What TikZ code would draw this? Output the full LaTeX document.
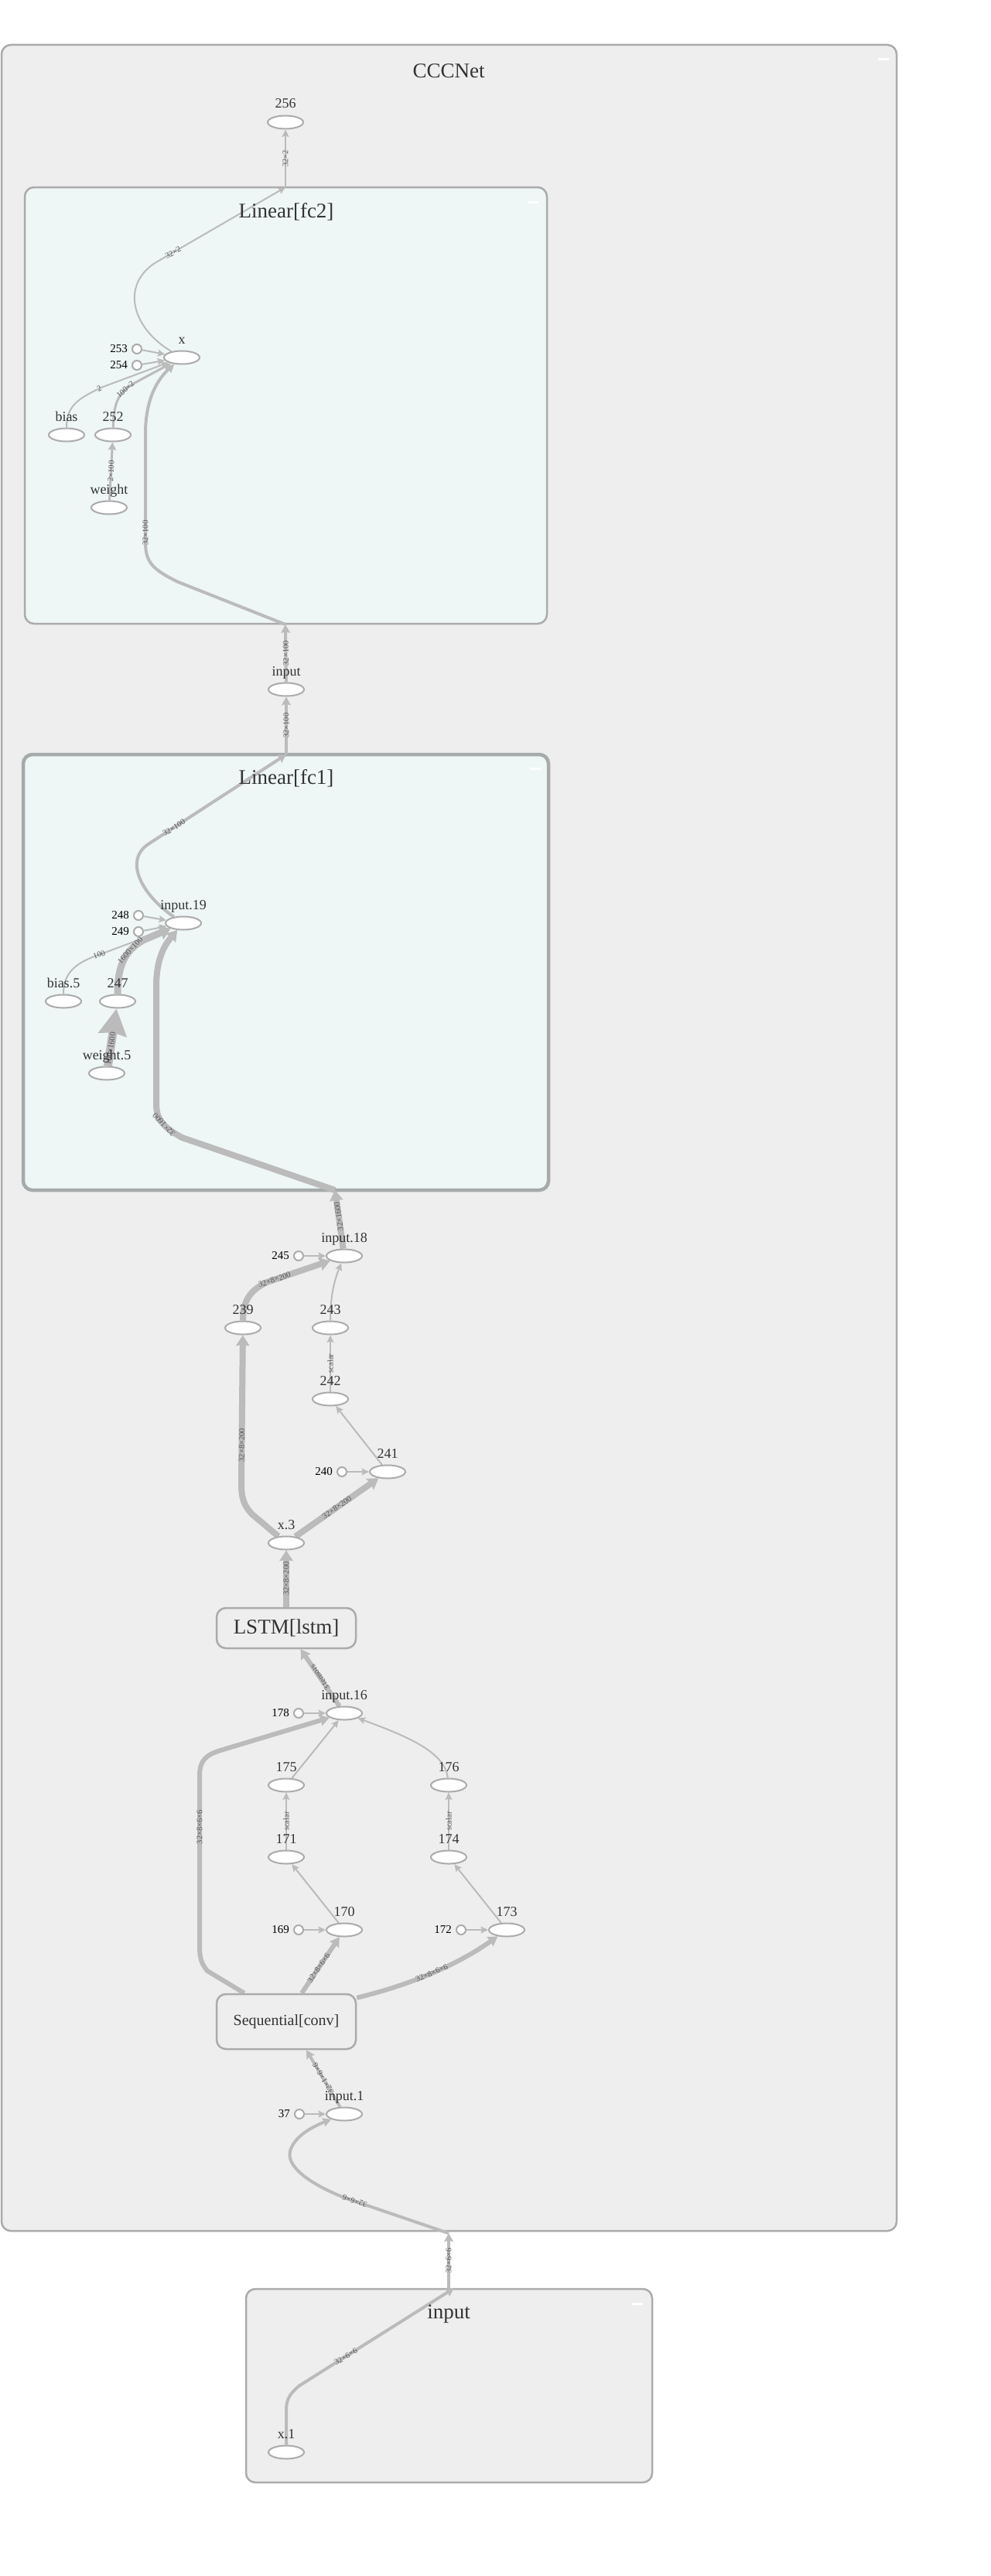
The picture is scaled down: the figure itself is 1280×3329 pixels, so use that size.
\documentclass[tikz,border=0pt]{standalone}
\usepackage{fontspec}
\setmainfont{Liberation Serif}
\usetikzlibrary{arrows.meta,shapes.geometric,calc}
\pgfdeclarelayer{bg}
\pgfdeclarelayer{edgel}
\pgfsetlayers{bg,edgel,main}
\definecolor{ecol}{HTML}{BBBBBB}
\definecolor{bcol}{HTML}{ABABAB}
\definecolor{outfill}{HTML}{EEEEEE}
\definecolor{fcfill}{HTML}{EEF6F6}
\definecolor{fcbord}{HTML}{A5AAAA}
\definecolor{txt}{HTML}{333333}
\definecolor{elab}{HTML}{555555}
\newcommand\mkop[4]{\node[opn] (#1) at (#2,#3) {}; \node[lab] (#1-l) at ([yshift=18pt]#1.center) {#4};}
\newcommand\mkcst[4]{\node[cst] (#1) at (#2,#3) {}; \node[clab] (#1-l) at ([xshift=-5pt]#1.west) {#4};}
\begin{document}
\begin{tikzpicture}[x=1pt,y=-1pt,
 opn/.style={ellipse, draw=bcol, fill=white, line width=2pt, minimum width=46pt, minimum height=17pt, inner sep=0pt},
 cst/.style={circle, draw=bcol, fill=white, line width=2pt, minimum size=12pt, inner sep=0pt},
 lab/.style={text=txt, font=\fontsize{18}{20}\selectfont, inner sep=0pt, anchor=base},
 clab/.style={text=black, font=\fontsize{15}{17}\selectfont, inner sep=0pt, anchor=east},
 ttl/.style={text=txt, font=\fontsize{27}{30}\selectfont, inner sep=0pt},
 ed/.style={draw=ecol, line width=#1, -{Stealth[length=8pt 0.7, width=6pt 1.4, inset=1.5pt]}},
 bigtip/.style={draw=ecol, line width=#1, -{Stealth[length=34pt, width=36pt, inset=3pt]}},
 el/.style={text=elab, font=\fontsize{10.5}{12}\selectfont, inner sep=0.5pt, sloped, allow upside down},
 meta/.style={draw=bcol, line width=2.5pt, rounded corners=12pt, inner sep=0pt},
 collbtn/.style={fill=white, draw=none}
]
\useasboundingbox (0,0) rectangle (1280,3329);
\begin{pgfonlayer}{bg}
\fill[white] (0,0) rectangle (1280,3329);
\node[meta, fill=outfill, minimum width=1157pt, minimum height=2825pt] (cccnet) at (580.5,1470.5) {};
\node[meta, fill=fcfill, minimum width=675pt, minimum height=564pt] (fc2) at (369.5,524) {};
\node[meta, fill=fcfill, draw=fcbord, line width=4.5pt, minimum width=679pt, minimum height=563pt] (fc1) at (369.5,1256.5) {};
\node[meta, fill=outfill, minimum width=525pt, minimum height=250pt] (inbox) at (580.5,3083) {};
\fill[collbtn] (1135,75.5) rectangle (1149,78.5);
\fill[collbtn] (682,259.5) rectangle (696,262.5);
\fill[collbtn] (685,991.5) rectangle (699,994.5);
\fill[collbtn] (817,2975.5) rectangle (831,2978.5);
\end{pgfonlayer}

\node[ttl] (t-ccc) at (580,92) {CCCNet};
\node[ttl] (t-fc2) at (370,274) {Linear[fc2]};
\node[ttl] (t-fc1) at (370,1006) {Linear[fc1]};
\node[ttl] (t-in) at (580,2990) {input};

\node[meta, fill=outfill, minimum width=180pt, minimum height=52pt, text=txt, font=\fontsize{27}{30}\selectfont] (lstm) at (370,2104) {LSTM[lstm]};
\node[meta, fill=outfill, minimum width=180pt, minimum height=71pt, text=txt, font=\fontsize{20}{24}\selectfont] (seq) at (370,2612.5) {Sequential[conv]};

% ports on box borders
\coordinate (fc2top) at (369,242);
\coordinate (fc2bot) at (369,807);
\coordinate (fc1top) at (370,975);
\coordinate (fc1bot) at (433,1538);
\coordinate (outport) at (580,2886);
\coordinate (inport) at (580,2957);
\coordinate (inport2) at (587,2957);

% nodes
\mkop{n256}{369}{158}{256}
\mkop{xn}{235}{462}{x}
\mkcst{c253}{177}{451}{253}
\mkcst{c254}{177}{472}{254}
\mkop{bias}{86}{562}{bias}
\mkop{n252}{146}{562}{252}
\mkop{weight}{141}{656}{weight}
\mkop{inputn}{370}{891}{input}
\mkop{in19}{237}{1193}{input.19}
\mkcst{c248}{179}{1183}{248}
\mkcst{c249}{179}{1204}{249}
\mkop{bias5}{82}{1294}{bias.5}
\mkop{n247}{152}{1294}{247}
\mkop{weight5}{138}{1387}{weight.5}
\mkop{in18}{445}{1623}{input.18}
\mkcst{c245}{386}{1623}{245}
\mkop{n239}{314}{1716}{239}
\mkop{n243}{427}{1716}{243}
\mkop{n242}{427}{1808}{242}
\mkop{n241}{501}{1902}{241}
\mkcst{c240}{442}{1902}{240}
\mkop{xn3}{370}{1994}{x.3}
\mkop{in16}{445}{2214}{input.16}
\mkcst{c178}{386}{2214}{178}
\mkop{n175}{370}{2307}{175}
\mkop{n176}{580}{2307}{176}
\mkop{n171}{370}{2400}{171}
\mkop{n174}{580}{2400}{174}
\mkop{n170}{445}{2494}{170}
\mkcst{c169}{386}{2494}{169}
\mkop{n173}{655}{2494}{173}
\mkcst{c172}{596}{2494}{172}
\mkop{in1}{445}{2732}{input.1}
\mkcst{c37}{387}{2732}{37}
\mkop{x1}{370}{3169}{x.1}

\begin{pgfonlayer}{edgel}
% fc2
\draw[ed=2pt] (fc2top) -- (n256) node[el,midway]{32×2};
\draw[ed=2pt] (xn) .. controls (172,425) and (155,370) .. (200,340) -- (fc2top) node[el,pos=0.14]{32×2};
\draw[ed=4pt] (fc2bot) -- (230,752) .. controls (195,735) and (188,725) .. (188,700) -- (188,560) node[el,pos=0.08]{32×100} .. controls (188,525) and (198,495) .. (xn);
\draw[ed=2pt] (bias) .. controls (86,525) and (100,515) .. (133,500) node[el,pos=0.95]{2} -- (xn);
\draw[ed=3pt] (n252) .. controls (147,520) and (153,508) .. (172,496) node[el,pos=0.8]{100×2} -- (xn);
\draw[ed=3pt] (weight) -- (n252) node[el,midway]{2×100};
\draw[ed=2pt] (c253) -- (xn);
\draw[ed=2pt] (c254) -- (xn);
% between fc1 and fc2
\draw[ed=4pt] (fc1top) -- (inputn) node[el,midway]{32×100};
\draw[ed=4pt] (inputn) -- (fc2bot) node[el,midway]{32×100};
% fc1
\draw[ed=4pt] (in19) .. controls (185,1158) and (158,1112) .. (193,1090) -- (fc1top) node[el,pos=0.18]{32×100};
\draw[ed=8pt] (fc1bot) -- (235,1470) .. controls (208,1455) and (202,1445) .. (202,1425) node[el,pos=0.4]{32×1600} -- (202,1275) .. controls (202,1240) and (212,1222) .. (in19);
\draw[ed=2pt] (bias5) .. controls (82,1255) and (100,1243) .. (133,1232) node[el,pos=0.95]{100} -- (in19);
\draw[ed=9pt] (n247) .. controls (152,1245) and (163,1228) .. (185,1215) node[el,pos=0.7]{1600×100} -- (in19);
\draw[bigtip=11pt] (weight5) -- (n247) node[el,pos=0.3]{100×1600};
\draw[ed=2pt] (c248) -- (in19);
\draw[ed=2pt] (c249) -- (in19);
% middle
\draw[ed=8pt] (in18) -- (fc1bot) node[el,pos=0.55]{32×1600};
\draw[ed=8pt] (n239) .. controls (314,1682) and (322,1668) .. (345,1657) -- (in18) node[el,pos=0.12]{32×8×200};
\draw[ed=2pt] (n243) .. controls (427,1675) and (432,1655) .. (in18);
\draw[ed=2pt] (n242) -- (n243) node[el,midway]{scalar};
\draw[ed=2pt] (n241) -- (n242);
\draw[ed=2pt] (c240) -- (n241);
\draw[ed=2pt] (c245) -- (in18);
\draw[ed=8pt] (xn3) -- (326,1957) .. controls (314,1944) and (312,1935) .. (312,1915) -- (n239) node[el,pos=0.25]{32×8×200};
\draw[ed=8pt] (xn3) -- (n241) node[el,midway]{32×8×200};
% lstm
\draw[ed=8pt] (lstm) -- (xn3) node[el,midway]{32×8×200};
\draw[ed=6pt] (in16) -- (lstm) node[el,midway]{3 tensors};
\draw[ed=2pt] (c178) -- (in16);
\draw[ed=2pt] (n175) -- (in16);
\draw[ed=2pt] (n176) .. controls (575,2265) and (530,2245) .. (in16);
\draw[ed=2pt] (n171) -- (n175) node[el,midway]{scalar};
\draw[ed=2pt] (n174) -- (n176) node[el,midway]{scalar};
\draw[ed=2pt] (n170) -- (n171);
\draw[ed=2pt] (n173) -- (n174);
\draw[ed=2pt] (c169) -- (n170);
\draw[ed=2pt] (c172) -- (n173);
% sequential
\draw[ed=6pt] ([xshift=20pt]seq.north) -- (n170) node[el,pos=0.45]{32×8×6×6};
\draw[ed=6pt] ([yshift=-6pt]seq.north east) .. controls (530,2565) and (590,2540) .. (n173) node[el,pos=0.5]{32×8×6×6};
\draw[ed=6pt] ([xshift=37pt]seq.north west) -- (268,2547) .. controls (260,2537) and (258,2530) .. (258,2515) -- (258,2295) node[el,pos=0.7]{32×8×6×6} .. controls (258,2275) and (266,2268) .. (285,2262) -- (in16);
\draw[ed=4pt] (in1) -- ([xshift=26pt]seq.south) node[el,midway]{32×1×6×6};
\draw[ed=2pt] (c37) -- (in1);
\draw[ed=4pt] (outport) -- (445,2840) node[el,pos=0.9]{32×6×6} .. controls (400,2822) and (370,2800) .. (375,2780) .. controls (380,2762) and (400,2750) .. (in1);
\draw[ed=4pt] (inport) -- (outport) node[el,midway]{32×6×6};
\draw[ed=4pt] (x1) -- (370,3115) .. controls (370,3100) and (375,3093) .. (387,3083) -- (inport2) node[el,pos=0.3]{32×6×6};
\end{pgfonlayer}
\end{tikzpicture}
\end{document}
